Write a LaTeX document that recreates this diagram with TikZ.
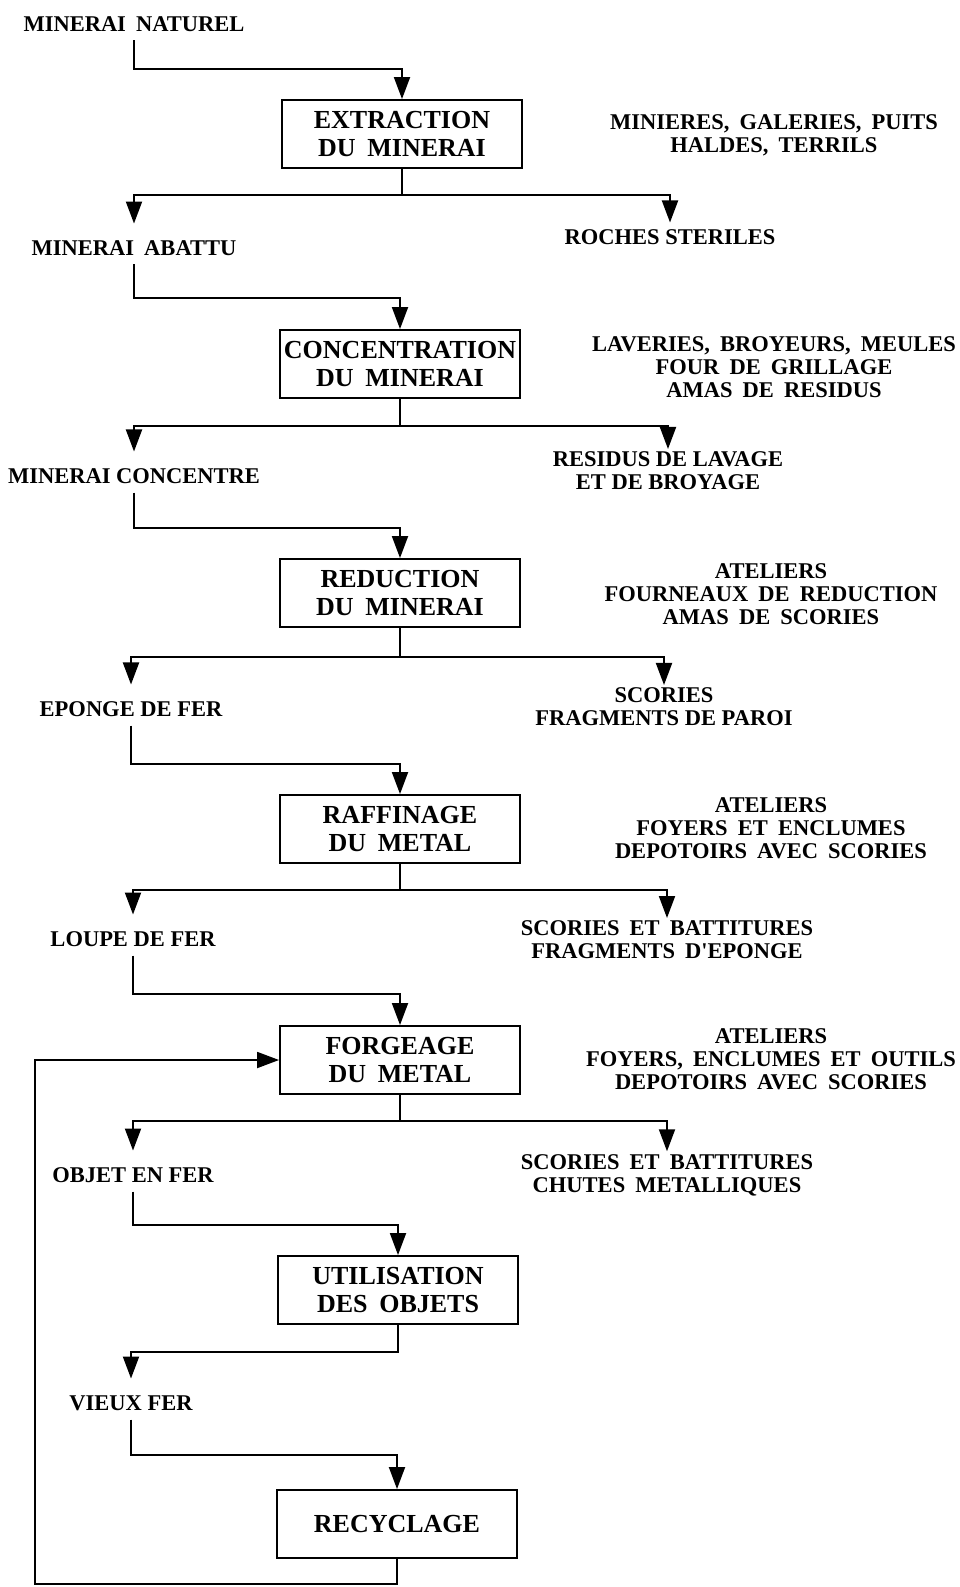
\documentclass[tikz,border=0pt]{standalone}
\usepackage{fontspec}
\setmainfont{Liberation Serif}
\newfontfamily\widefont{Liberation Serif}[WordSpace=1.8]
\usetikzlibrary{arrows.meta}

\begin{document}
\begin{tikzpicture}[x=1pt,y=-1pt,->,>={Triangle[length=22pt,width=16pt]},
                line width=1.9pt,
                stage node/.style={rectangle,draw,minimum width=240pt,minimum height=68pt,
                  inner sep=0pt,align=center,font=\fontsize{26}{28}\selectfont\widefont\bfseries},
                prod node/.style={inner sep=0pt,align=center,font=\fontsize{22.5}{23}\selectfont\bfseries},
                wide prod/.style={prod node,font=\fontsize{22.5}{23}\selectfont\widefont\bfseries},
                site node/.style={inner sep=0pt,align=center,font=\fontsize{22.5}{23}\selectfont\widefont\bfseries}]
	\useasboundingbox (0,0) rectangle (960,1587);

	% stages
	\node[stage node] (ext)  at (402,134)  {EXTRACTION\\DU MINERAI};
	\node[stage node] (conc) at (400,364)  {CONCENTRATION\\DU MINERAI};
	\node[stage node] (red)  at (400,593)  {REDUCTION\\DU MINERAI};
	\node[stage node] (raf)  at (400,829)  {RAFFINAGE\\DU METAL};
	\node[stage node] (forg) at (400,1060) {FORGEAGE\\DU METAL};
	\node[stage node] (util) at (398,1290) {UTILISATION\\DES OBJETS};
	\node[stage node] (recy) at (397,1524) {RECYCLAGE};

	% products
	\node[wide prod] (nat)   at (134,24)   {MINERAI NATUREL};
	\node[wide prod] (abat)  at (134,248)  {MINERAI ABATTU};
	\node[prod node] (concm) at (134,476)  {MINERAI CONCENTRE};
	\node[prod node] (epon)  at (131,709)  {EPONGE DE FER};
	\node[prod node] (loupe) at (133,939)  {LOUPE DE FER};
	\node[prod node] (objet) at (133,1175) {OBJET EN FER};
	\node[prod node] (vieux) at (131,1403) {VIEUX FER};

	% waste
	\node[prod node] (w1) at (670,237)  {ROCHES STERILES};
	\node[prod node] (w2) at (668,471)  {RESIDUS DE LAVAGE\\ET DE BROYAGE};
	\node[prod node] (w3) at (664,707)  {SCORIES\\FRAGMENTS DE PAROI};
	\node[wide prod] (w4) at (667,940)  {SCORIES ET BATTITURES\\FRAGMENTS D'EPONGE};
	\node[wide prod] (w5) at (667,1175) {SCORIES ET BATTITURES\\CHUTES METALLIQUES};

	% sites
	\node[site node] (t1) at (774,135)  {MINIERES, GALERIES, PUITS\\HALDES, TERRILS};
	\node[site node] (t2) at (774,367)  {LAVERIES, BROYEURS, MEULES\\FOUR DE GRILLAGE\\AMAS DE RESIDUS};
	\node[site node] (t3) at (771,594)  {ATELIERS\\FOURNEAUX DE REDUCTION\\AMAS DE SCORIES};
	\node[site node] (t4) at (771,828)  {ATELIERS\\FOYERS ET ENCLUMES\\DEPOTOIRS AVEC SCORIES};
	\node[site node] (t5) at (771,1059) {ATELIERS\\FOYERS, ENCLUMES ET OUTILS\\DEPOTOIRS AVEC SCORIES};

	% junctions
	\coordinate (j1) at (402,69);
	\coordinate (j2) at (400,298);
	\coordinate (j3) at (400,528);
	\coordinate (j4) at (400,764);
	\coordinate (j5) at (400,994);
	\coordinate (j6) at (398,1225);
	\coordinate (j7) at (397,1455);
	\coordinate (s1) at (402,195);
	\coordinate (s2) at (400,426);
	\coordinate (s3) at (400,657);
	\coordinate (s4) at (400,890);
	\coordinate (s5) at (400,1121);
	\coordinate (s6) at (398,1352);
	\coordinate (b1) at (35,1584);

	% into the stages
	\draw[shorten <=8pt] (nat) |- (j1) -- (ext);
	\draw[shorten <=8pt] (abat) |- (j2) -- (conc);
	\draw[shorten <=8pt] (concm) |- (j3) -- (red);
	\draw[shorten <=8pt] (epon) |- (j4) -- (raf);
	\draw[shorten <=8pt] (loupe) |- (j5) -- (forg);
	\draw[shorten <=8pt] (objet) |- (j6) -- (util);
	\draw[shorten <=8pt] (vieux) |- (j7) -- (recy);

	% out of the stages
	\draw[shorten >=16pt] (ext) -- (s1) -| (abat);
	\draw[shorten >=6pt] (s1) -| (w1);
	\draw[shorten >=16pt] (conc) -- (s2) -| (concm);
	\draw[shorten >=2pt] (s2) -| (w2);
	\draw[shorten >=16pt] (red) -- (s3) -| (epon);
	\draw[shorten >=2pt] (s3) -| (w3);
	\draw[shorten >=16pt] (raf) -- (s4) -| (loupe);
	\draw[shorten >=2pt] (s4) -| (w4);
	\draw[shorten >=16pt] (forg) -- (s5) -| (objet);
	\draw[shorten >=2pt] (s5) -| (w5);
	\draw[shorten >=16pt] (util) -- (s6) -| (vieux);

	% back to the forge
	\draw (recy) |- (b1) |- (forg);
\end{tikzpicture}
\end{document}
